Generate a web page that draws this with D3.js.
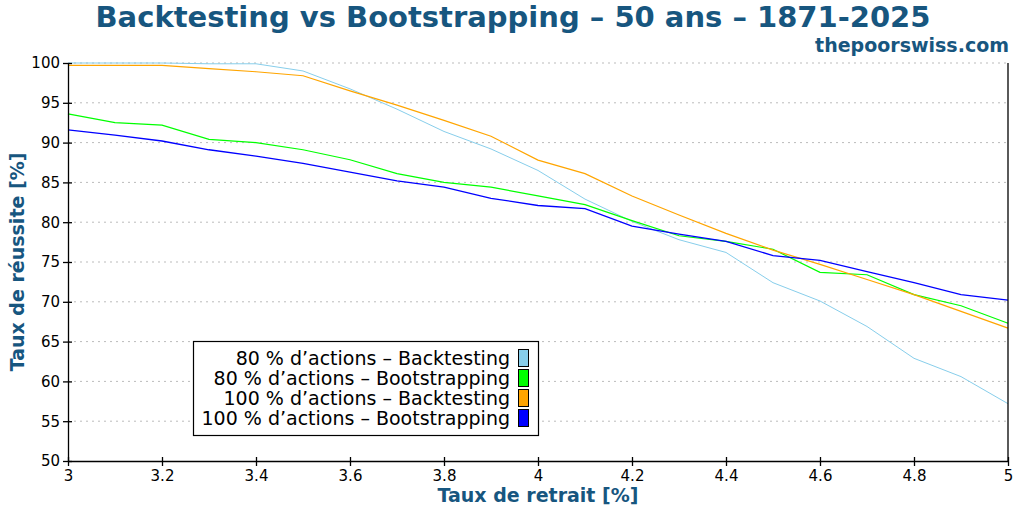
<!DOCTYPE html>
<html>
<head>
<meta charset="utf-8">
<script src="https://cdnjs.cloudflare.com/ajax/libs/d3/7.8.5/d3.min.js"></script>
<style>
  body { margin: 0; background: #fff; }
  svg { font-family: "DejaVu Sans", sans-serif; }
</style>
</head>
<body>
<svg id="chart" width="1024" height="512"></svg>
<script>
// withdrawal rates (x)
const rates = [3.0, 3.1, 3.2, 3.3, 3.4, 3.5, 3.6, 3.7, 3.8, 3.9, 4.0, 4.1, 4.2, 4.3, 4.4, 4.5, 4.6, 4.7, 4.8, 4.9, 5.0];

// success rates (%)
const bt80 = [100, 100, 100, 99.9, 99.9, 99.0, 96.75, 94.2, 91.4, 89.2, 86.5, 82.9, 80.1, 77.8, 76.2, 72.4, 70.1, 66.9, 62.9, 60.6, 57.2];
const bs80 = [93.6, 92.5, 92.2, 90.4, 90.0, 89.1, 87.85, 86.1, 85.0, 84.4, 83.3, 82.2, 80.2, 78.3, 77.6, 76.6, 73.7, 73.4, 70.9, 69.5, 67.3];
const bt100 = [99.7, 99.7, 99.7, 99.3, 98.9, 98.4, 96.5, 94.7, 92.8, 90.8, 87.8, 86.1, 83.3, 80.9, 78.6, 76.5, 74.7, 72.8, 70.9, 68.8, 66.7];
const bs100 = [91.6, 90.95, 90.2, 89.1, 88.3, 87.4, 86.3, 85.2, 84.4, 83.0, 82.1, 81.7, 79.5, 78.5, 77.6, 75.8, 75.2, 73.8, 72.4, 70.9, 70.2];

const seriesNames = ["80 % d\u2019actions \u2013 Backtesting", "80 % d\u2019actions \u2013 Bootstrapping",
  "100 % d\u2019actions \u2013 Backtesting", "100 % d\u2019actions \u2013 Bootstrapping"];
const seriesColors = ["#87ceeb", "#00ff00", "#ffa500", "#0000ff"];
const seriesWidths = [1, 1.2, 1.2, 1.3];

const xTicks = [3, 3.2, 3.4, 3.6, 3.8, 4, 4.2, 4.4, 4.6, 4.8, 5];
const yTicks = [50, 55, 60, 65, 70, 75, 80, 85, 90, 95, 100];

const series = [bt80, bs80, bt100, bs100].map((vals, i) => ({
  name: seriesNames[i], color: seriesColors[i], width: seriesWidths[i],
  values: vals.map((v, j) => ({ x: rates[j], y: v }))
}));

const blue = "#17567f";
const svg = d3.select("#chart");
const margin = { top: 63, right: 16, bottom: 51, left: 68 };
const width = 1024, height = 512;

const x = d3.scaleLinear().domain([3, 5]).range([margin.left, width - margin.right]);
const y = d3.scaleLinear().domain([50, 100]).range([height - margin.bottom, margin.top]);

// grid
svg.append("g").selectAll("line").data(yTicks.filter(d => d > 50)).join("line")
  .attr("x1", x(3)).attr("x2", x(5)).attr("y1", d => y(d)).attr("y2", d => y(d))
  .attr("stroke", "#bbb").attr("stroke-dasharray", "2,4").attr("stroke-width", 1);

// lines
const line = d3.line().x(d => x(d.x)).y(d => y(d.y));
svg.append("g").selectAll("path").data(series).join("path")
  .attr("d", d => line(d.values)).attr("fill", "none")
  .attr("stroke", d => d.color).attr("stroke-width", d => d.width);

// axes
const xAxis = svg.append("g").attr("transform", `translate(0,${y(50)})`)
  .call(d3.axisBottom(x).tickValues(xTicks).tickFormat(d3.format("~g")).tickSizeOuter(0));
xAxis.selectAll(".tick line").attr("y1", -4).attr("y2", 5);
xAxis.selectAll(".tick text").attr("y", 9);

const yAxis = svg.append("g").attr("transform", `translate(${x(3)},0)`)
  .call(d3.axisLeft(y).tickValues(yTicks).tickSizeOuter(0));
yAxis.selectAll(".tick line").attr("x1", -5).attr("x2", 4);
yAxis.selectAll(".tick text").attr("x", -8);

[xAxis, yAxis].forEach(a => {
  a.selectAll("text").attr("font-size", 15).attr("fill", "#000").attr("font-family", "DejaVu Sans");
  a.selectAll("line, path").attr("stroke", "#000").attr("stroke-width", 1.3);
});

// right border
svg.append("line").attr("x1", x(5)).attr("x2", x(5)).attr("y1", y(100)).attr("y2", y(50))
  .attr("stroke", "#000").attr("stroke-width", 1.3);

// titles
svg.append("text").attr("x", 513).attr("y", 27).attr("text-anchor", "middle")
  .attr("font-size", 29).attr("font-weight", "bold").attr("fill", blue)
  .text("Backtesting vs Bootstrapping \u2013 50 ans \u2013 1871-2025");
svg.append("text").attr("x", 1009).attr("y", 52).attr("text-anchor", "end")
  .attr("font-size", 19).attr("font-weight", "bold").attr("fill", blue)
  .text("thepoorswiss.com");
svg.append("text").attr("x", 538).attr("y", 502).attr("text-anchor", "middle")
  .attr("font-size", 19).attr("font-weight", "bold").attr("fill", blue)
  .text("Taux de retrait [%]");
svg.append("text").attr("transform", `translate(24,${(y(50) + y(100)) / 2}) rotate(-90)`)
  .attr("text-anchor", "middle")
  .attr("font-size", 19).attr("font-weight", "bold").attr("fill", blue)
  .text("Taux de réussite [%]");

// legend
const lg = svg.append("g");
lg.append("rect").attr("x", 193.5).attr("y", 341.5).attr("width", 345).attr("height", 94)
  .attr("fill", "#fff").attr("stroke", "#000").attr("stroke-width", 1.2);
const items = lg.selectAll("g.item").data(series).join("g").attr("class", "item")
  .attr("transform", (d, i) => `translate(0,${358 + i * 20})`);
items.append("text").attr("x", 510).attr("y", 7).attr("text-anchor", "end")
  .attr("font-size", 19).attr("fill", "#000").text(d => d.name);
items.append("rect").attr("x", 518.5).attr("y", -8.5).attr("width", 10).attr("height", 17)
  .attr("fill", d => d.color).attr("stroke", "#000").attr("stroke-width", 1);
</script>
</body>
</html>
